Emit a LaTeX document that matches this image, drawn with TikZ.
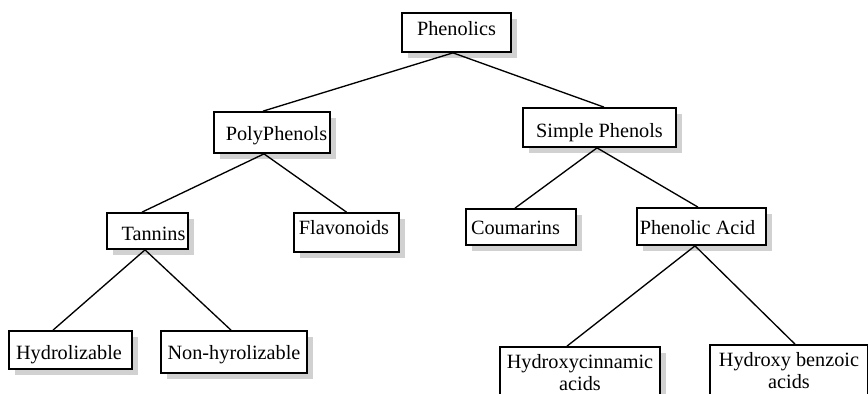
\documentclass[tikz,border=0pt]{standalone}
\usepackage{fontspec}
\setmainfont{Liberation Serif}
\newfontfamily\labelfont{Liberation Serif}
\usetikzlibrary{shadows,calc}
\begin{document}
\begin{tikzpicture}[x=0.75pt,y=-0.75pt,
  boxbase/.style={draw, line width=1.3pt, fill=white, rectangle, inner sep=0pt,
    font=\labelfont\fontsize{15.2}{16.5}\selectfont,
    general shadow={fill=black!18, shadow xshift=4.5pt, shadow yshift=-4.5pt}},
  box/.style={boxbase, text height=15pt, text depth=4.5pt},
  twoline/.style={boxbase, align=center},
  link/.style={line width=1pt},
  padl/.style={execute at begin node={\kern#1}},
  padr/.style={execute at end node={\kern#1}},
]
\clip (0,0) rectangle (868,393);
\fill[white] (0,0) rectangle (868,393);

% first level
\node[box, minimum width=81.75pt, minimum height=29.25pt, text depth=11.25pt] (root) at (456.5,32.5) {Phenolics};

% second level
\node[box, minimum width=87pt, minimum height=30.75pt, text depth=3.75pt, padl=6.75pt] (poly) at (272,132.5) {PolyPhenols};
\node[box, minimum width=114.75pt, minimum height=29.25pt, text depth=0.75pt] (simple) at (599.5,127.5) {Simple Phenols};

% third level
\node[box, minimum width=60.75pt, minimum height=27pt, text depth=1.5pt, padl=9pt] (tannins) at (147.5,231) {Tannins};
\node[box, minimum width=78.75pt, minimum height=29.25pt, text depth=12.75pt, padr=3.75pt] (flav) at (346.5,232.5) {Flavonoids};
\node[box, minimum width=82.5pt, minimum height=27pt, text depth=4.5pt, padr=8.25pt] (coum) at (521,227) {Coumarins};
\node[box, minimum width=96.75pt, minimum height=27.75pt, text depth=3.75pt, padr=6pt] (pacid) at (701.5,226.5) {Phenolic Acid};

% fourth level
\node[box, minimum width=92.25pt, minimum height=28.5pt, text depth=1.5pt, padr=2.25pt] (hydrol) at (70.5,350) {Hydrolizable};
\node[box, minimum width=109.5pt, minimum height=31.5pt, text depth=4.5pt] (nonhyd) at (234,352) {Non-hyrolizable};
\node[twoline, minimum width=120pt, minimum height=39pt] (hcin) at (580,373) {Hydroxycinnamic\\acids};
\node[twoline, minimum width=118.5pt, minimum height=39pt] (hbenz) at (789,371) {Hydroxy benzoic\\acids};

% connectors
\draw[link] ($(root.south)+(-3.5,0)$) -- ($(poly.north)+(-9,0)$);
\draw[link] ($(root.south)+(-3.5,0)$) -- ($(simple.north)+(4.5,0)$);
\draw[link] ($(poly.south)+(-8,0)$) -- ($(tannins.north)+(-5.5,0)$);
\draw[link] ($(poly.south)+(-8,0)$) -- (flav.north);
\draw[link] ($(simple.south)+(-2.5,0)$) -- ($(coum.north)+(-6,0)$);
\draw[link] ($(simple.south)+(-2.5,0)$) -- ($(pacid.north)+(-3.5,0)$);
\draw[link] ($(tannins.south)+(-2.5,0)$) -- ($(hydrol.north)+(-17.5,0)$);
\draw[link] ($(tannins.south)+(-2.5,0)$) -- ($(nonhyd.north)+(-3,0)$);
\draw[link] ($(pacid.south)+(-6.5,0)$) -- ($(hcin.north)+(-13,0)$);
\draw[link] ($(pacid.south)+(-6.5,0)$) -- ($(hbenz.north)+(6,0)$);
\end{tikzpicture}
\end{document}
